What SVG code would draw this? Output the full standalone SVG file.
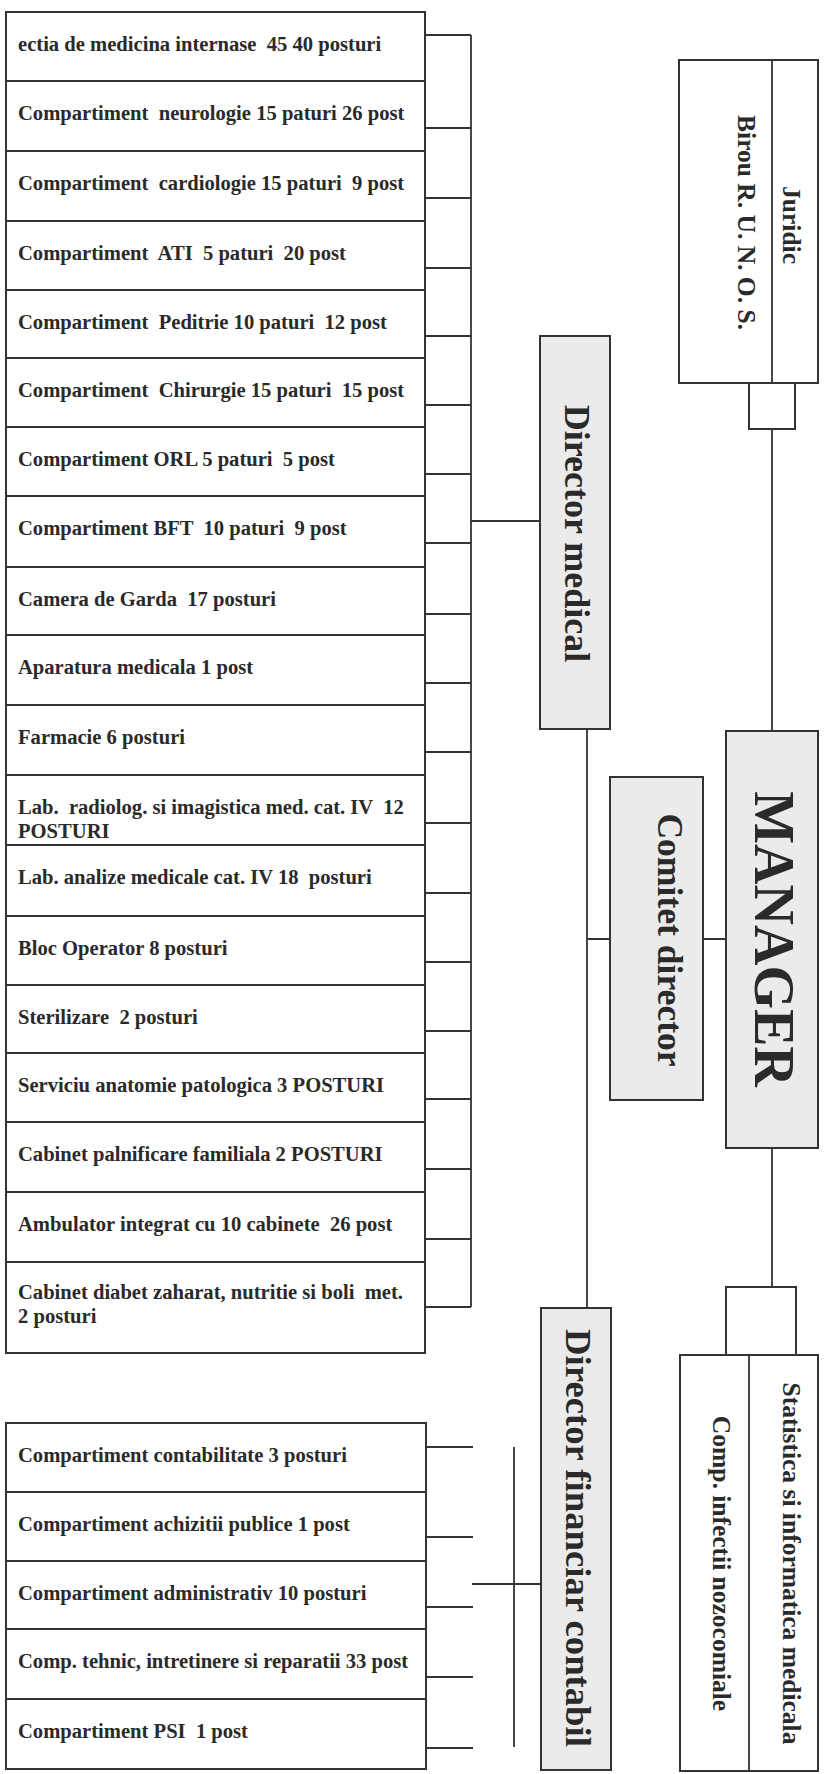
<svg xmlns="http://www.w3.org/2000/svg" width="826" height="1774" viewBox="0 0 826 1774">
<style>
.box{fill:#ffffff;stroke:#333333;stroke-width:2}
.dir{fill:#ebebeb;stroke:#333333;stroke-width:2}
.ln{fill:none;stroke:#333333;stroke-width:1.8}
.t{font-family:"Liberation Serif","Times New Roman",serif;font-weight:bold;font-size:20.6px;fill:#2a2a2a;white-space:pre}
.v{font-family:"Liberation Serif","Times New Roman",serif;font-weight:bold;font-size:25.5px;fill:#2a2a2a;text-anchor:middle;white-space:pre}
.big{font-family:"Liberation Serif","Times New Roman",serif;font-weight:bold;fill:#2a2a2a;text-anchor:middle;white-space:pre}
</style>
<rect width="826" height="1774" fill="#ffffff"/>

<g id="connectors">
<path class="ln" d="M471 35V1307"/>
<path class="ln" d="M425 35H471M425 128H471M425 198H471M425 268H471M425 336H471M425 405H471M425 474H471M425 543H471M425 614H471M425 683H471M425 752H471M425 823H471M425 893H471M425 962H471M425 1031H471M425 1099H471M425 1169H471M425 1239H471M425 1307H471"/>
<path class="ln" d="M471 521H540"/>
<path class="ln" d="M587 729V1308"/>
<path class="ln" d="M587 939H610M703 939H726"/>
<path class="ln" d="M772 429V731"/>
<path class="ln" d="M772 1148V1287"/>
<path class="ln" d="M426 1447H473M426 1537H473M426 1607H473M426 1677H473M426 1748H473"/>
<path class="ln" d="M514 1447V1747"/>
<path class="ln" d="M472 1584H541"/>
</g>

<g id="medical-units">
<g id="row1"><rect class="box" x="6" y="12" width="419" height="69"/><text class="t" x="18" y="51">ectia de medicina internase  45 40 posturi</text></g>
<g id="row2"><rect class="box" x="6" y="81" width="419" height="70"/><text class="t" x="18" y="120">Compartiment  neurologie 15 paturi 26 post</text></g>
<g id="row3"><rect class="box" x="6" y="151" width="419" height="70"/><text class="t" x="18" y="190">Compartiment  cardiologie 15 paturi  9 post</text></g>
<g id="row4"><rect class="box" x="6" y="221" width="419" height="69"/><text class="t" x="18" y="260">Compartiment  ATI  5 paturi  20 post</text></g>
<g id="row5"><rect class="box" x="6" y="290" width="419" height="68"/><text class="t" x="18" y="329">Compartiment  Peditrie 10 paturi  12 post</text></g>
<g id="row6"><rect class="box" x="6" y="358" width="419" height="69"/><text class="t" x="18" y="397">Compartiment  Chirurgie 15 paturi  15 post</text></g>
<g id="row7"><rect class="box" x="6" y="427" width="419" height="69"/><text class="t" x="18" y="466">Compartiment ORL 5 paturi  5 post</text></g>
<g id="row8"><rect class="box" x="6" y="496" width="419" height="71"/><text class="t" x="18" y="535">Compartiment BFT  10 paturi  9 post</text></g>
<g id="row9"><rect class="box" x="6" y="567" width="419" height="68"/><text class="t" x="18" y="606">Camera de Garda  17 posturi</text></g>
<g id="row10"><rect class="box" x="6" y="635" width="419" height="70"/><text class="t" x="18" y="674">Aparatura medicala 1 post</text></g>
<g id="row11"><rect class="box" x="6" y="705" width="419" height="70"/><text class="t" x="18" y="744">Farmacie 6 posturi</text></g>
<g id="row12"><rect class="box" x="6" y="775" width="419" height="70"/><text class="t" x="18" y="814">Lab.  radiolog. si imagistica med. cat. IV  12</text><text class="t" x="18" y="838">POSTURI</text></g>
<g id="row13"><rect class="box" x="6" y="845" width="419" height="71"/><text class="t" x="18" y="884">Lab. analize medicale cat. IV 18  posturi</text></g>
<g id="row14"><rect class="box" x="6" y="916" width="419" height="69"/><text class="t" x="18" y="955">Bloc Operator 8 posturi</text></g>
<g id="row15"><rect class="box" x="6" y="985" width="419" height="68"/><text class="t" x="18" y="1024">Sterilizare  2 posturi</text></g>
<g id="row16"><rect class="box" x="6" y="1053" width="419" height="69"/><text class="t" x="18" y="1092">Serviciu anatomie patologica 3 POSTURI</text></g>
<g id="row17"><rect class="box" x="6" y="1122" width="419" height="70"/><text class="t" x="18" y="1161">Cabinet palnificare familiala 2 POSTURI</text></g>
<g id="row18"><rect class="box" x="6" y="1192" width="419" height="70"/><text class="t" x="18" y="1231">Ambulator integrat cu 10 cabinete  26 post</text></g>
<g id="row19"><rect class="box" x="6" y="1262" width="419" height="91"/><text class="t" x="18" y="1299">Cabinet diabet zaharat, nutritie si boli  met.</text><text class="t" x="18" y="1323">2 posturi</text></g>
</g>

<g id="financial-units">
<g id="frow1"><rect class="box" x="6" y="1423" width="420" height="69"/><text class="t" x="18" y="1462">Compartiment contabilitate 3 posturi</text></g>
<g id="frow2"><rect class="box" x="6" y="1492" width="420" height="69"/><text class="t" x="18" y="1531">Compartiment achizitii publice 1 post</text></g>
<g id="frow3"><rect class="box" x="6" y="1561" width="420" height="68"/><text class="t" x="18" y="1600">Compartiment administrativ 10 posturi</text></g>
<g id="frow4"><rect class="box" x="6" y="1629" width="420" height="70"/><text class="t" x="18" y="1668">Comp. tehnic, intretinere si reparatii 33 post</text></g>
<g id="frow5"><rect class="box" x="6" y="1699" width="420" height="70"/><text class="t" x="18" y="1738">Compartiment PSI  1 post</text></g>
</g>

<g id="director-medical"><rect class="dir" x="540" y="336" width="70" height="393"/><text class="big" font-size="36" transform="translate(565,533.5) rotate(90)">Director medical</text></g>

<g id="director-financiar"><rect class="dir" x="541" y="1308" width="70" height="462"/><text class="big" font-size="36.7" transform="translate(566,1538) rotate(90)">Director financiar contabil</text></g>

<g id="comitet-director"><rect class="dir" x="610" y="777" width="93" height="323"/><text class="big" font-size="35.6" transform="translate(658,940) rotate(90)">Comitet director</text></g>

<g id="manager"><rect class="dir" x="726" y="731" width="92" height="417"/><text class="big" font-size="56" transform="translate(755,939) rotate(90)">MANAGER</text></g>

<g id="birou-juridic">
<rect class="box" x="679" y="60" width="139" height="323"/>
<path class="ln" d="M772 60V383"/>
<text class="v" transform="translate(738,222.5) rotate(90)">Birou R. U. N. O. S.</text>
<text class="v" transform="translate(783,225) rotate(90)">Juridic</text>
</g>
<g id="top-link"><rect class="box" x="749" y="383" width="46" height="46"/></g>

<g id="bottom-link"><rect class="box" x="726" y="1287" width="70" height="68"/></g>
<g id="statistica-infectii">
<rect class="box" x="680" y="1355" width="138" height="416"/>
<path class="ln" d="M749 1355V1771"/>
<text class="v" transform="translate(713,1563.5) rotate(90)">Comp. infectii nozocomiale</text>
<text class="v" transform="translate(783,1563.5) rotate(90)">Statistica si informatica medicala</text>
</g>
</svg>
